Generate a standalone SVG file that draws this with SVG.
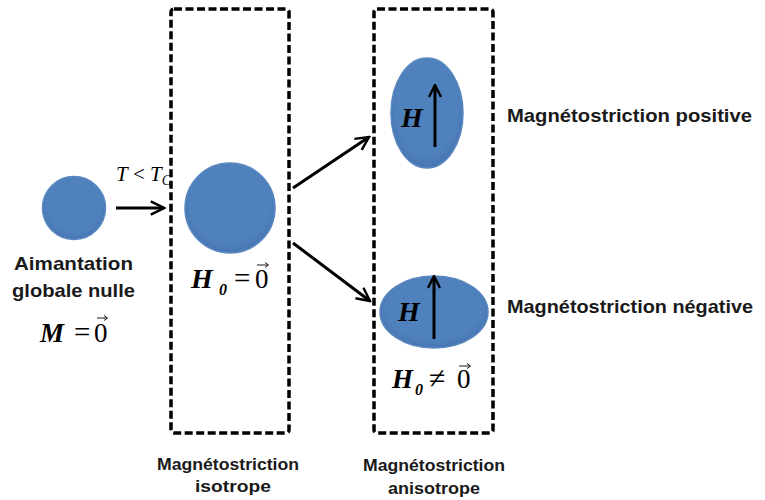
<svg xmlns="http://www.w3.org/2000/svg" width="765" height="500" viewBox="0 0 765 500">
<style>
.blob{fill:url(#g);stroke:#5a87bf;stroke-width:1.5}
.box{fill:none;stroke:#000;stroke-width:3.5;stroke-dasharray:8 3.5}
.conn{fill:none;stroke:#000;stroke-width:3;marker-end:url(#open)}
.vec{fill:none;stroke:#000;stroke-width:3;marker-end:url(#open2)}
.lbl{font-family:"Liberation Sans",Arial,sans-serif;font-weight:bold;fill:#1a1a1a}
.m{font-family:"Liberation Serif","Times New Roman",serif;fill:#000}
.bi{font-weight:bold;font-style:italic}
.small{fill:none;stroke:#000;stroke-width:0.9}
</style>
<defs>
<radialGradient id="g" cx="50%" cy="45%" r="55%">
<stop offset="0.8" stop-color="#4f81bd"/>
<stop offset="1" stop-color="#4676b2"/>
</radialGradient>
<marker id="open" viewBox="0 0 10 10" refX="9" refY="5" markerWidth="5.5" markerHeight="5.5" orient="auto" markerUnits="strokeWidth">
<polyline points="1,1 9,5 1,9" fill="none" stroke="#000" stroke-width="1.5"/>
</marker>
<marker id="open2" viewBox="0 0 10 10" refX="9" refY="5" markerWidth="5" markerHeight="5" orient="auto" markerUnits="strokeWidth">
<polyline points="1,1 9,5 1,9" fill="none" stroke="#000" stroke-width="1.6"/>
</marker>
</defs>

<g id="tc-label">
<text class="m" x="116" y="181" font-size="21"><tspan font-style="italic">T</tspan> &lt; <tspan font-style="italic">T</tspan><tspan font-style="italic" font-size="14" dy="4">C</tspan></text>
</g>

<g id="box-isotrope">
<rect class="box" x="171" y="9" width="118" height="424" rx="3"/>
</g>
<g id="box-anisotrope">
<rect class="box" x="374" y="9" width="119" height="424" rx="3"/>
</g>

<g id="node-initial">
<circle class="blob" cx="74" cy="208" r="31.5"/>
<text class="lbl" x="14" y="270" font-size="19" textLength="119" lengthAdjust="spacingAndGlyphs">Aimantation</text>
<text class="lbl" x="12" y="297" font-size="19" textLength="123" lengthAdjust="spacingAndGlyphs">globale nulle</text>
<text class="m bi" x="40" y="342" font-size="27">M</text>
<text class="m" x="74" y="342" font-size="29">=</text>
<text class="m" x="94" y="342" font-size="27">0</text>
<line class="small" x1="97" y1="318" x2="107" y2="318"/>
<polyline class="small" points="104,315.5 107.5,318 104,320.5"/>
</g>

<g id="node-isotrope">
<circle class="blob" cx="230" cy="208" r="45"/>
<text class="m bi" x="191" y="288" font-size="28">H</text>
<text class="m bi" x="219" y="295" font-size="16">0</text>
<text class="m" x="234" y="288" font-size="29">=</text>
<text class="m" x="255" y="288" font-size="27">0</text>
<line class="small" x1="257" y1="265" x2="268" y2="265"/>
<polyline class="small" points="265,262.5 268.5,265 265,267.5"/>
</g>

<g id="node-positive">
<ellipse class="blob" cx="427" cy="113" rx="36" ry="55"/>
<text class="m bi" x="401" y="127" font-size="28">H</text>
<line class="vec" x1="435" y1="147" x2="435" y2="85"/>
</g>

<g id="node-negative">
<ellipse class="blob" cx="434" cy="312" rx="54" ry="36"/>
<text class="m bi" x="398" y="321" font-size="28">H</text>
<line class="vec" x1="434" y1="339" x2="434" y2="276"/>
<text class="m bi" x="392" y="388" font-size="27">H</text>
<text class="m bi" x="415" y="395" font-size="16">0</text>
<text class="m" x="429" y="388" font-size="30">≠</text>
<text class="m" x="457" y="388" font-size="27">0</text>
<line class="small" x1="459" y1="366" x2="470" y2="366"/>
<polyline class="small" points="467,363.5 470.5,366 467,368.5"/>
</g>

<g id="connectors">
<line class="conn" x1="116" y1="208" x2="164" y2="208"/>
<line class="conn" x1="293" y1="188" x2="369" y2="137"/>
<line class="conn" x1="293" y1="243" x2="370" y2="301"/>
</g>

<g id="labels">
<text class="lbl" x="507" y="122" font-size="19" textLength="245" lengthAdjust="spacingAndGlyphs">Magnétostriction positive</text>
<text class="lbl" x="507" y="313" font-size="19" textLength="246" lengthAdjust="spacingAndGlyphs">Magnétostriction négative</text>
<text class="lbl" x="157" y="470" font-size="17" textLength="142" lengthAdjust="spacingAndGlyphs">Magnétostriction</text>
<text class="lbl" x="195" y="492" font-size="17" textLength="76" lengthAdjust="spacingAndGlyphs">isotrope</text>
<text class="lbl" x="363" y="471" font-size="17" textLength="142" lengthAdjust="spacingAndGlyphs">Magnétostriction</text>
<text class="lbl" x="388" y="494" font-size="17" textLength="92" lengthAdjust="spacingAndGlyphs">anisotrope</text>
</g>
</svg>
